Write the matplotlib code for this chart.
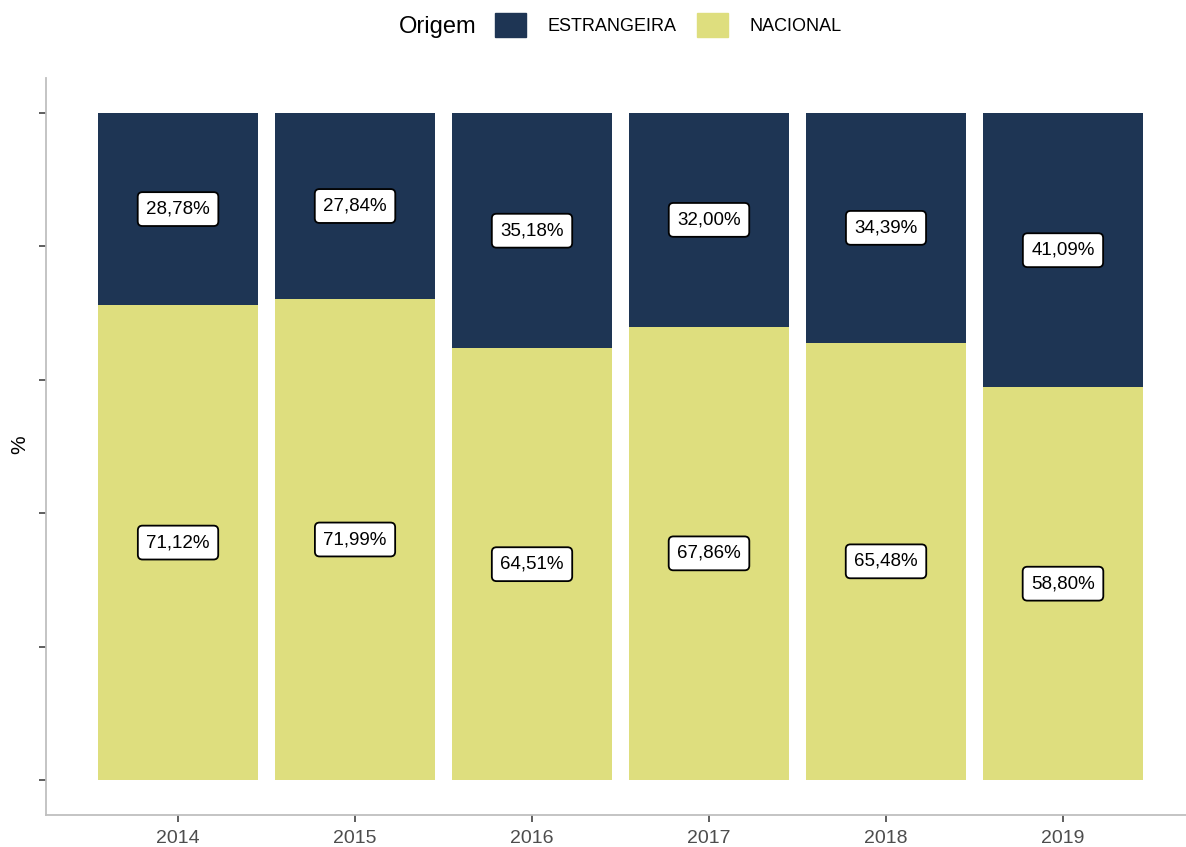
import numpy as np
import matplotlib
matplotlib.use("Agg")
import matplotlib.pyplot as plt
from matplotlib.patches import Patch

plt.rcParams['font.family'] = ['Liberation Sans', 'DejaVu Sans']

# data (percent of total per year)
anos = ['2014', '2015', '2016', '2017', '2018', '2019']
estrangeira = [28.78, 27.84, 35.18, 32.00, 34.39, 41.09]
nacional = [71.12, 71.99, 64.51, 67.86, 65.48, 58.80]

cor_estr = '#1E3554'
cor_nac = '#DEDE7E'

def fmt(v):
    return ('%.2f' % v).replace('.', ',') + '%'

fig = plt.figure(figsize=(11.86, 8.47), dpi=100)
ax = fig.add_axes([46 / 1186, 32 / 847, 1 - 46 / 1186, (815 - 78) / 847])

x = np.arange(len(anos))
est = np.array(estrangeira)
nac = np.array(nacional)
tot = est + nac
# position fill: each bar normalised to 1
f_nac = nac / tot
f_est = est / tot

ax.bar(x, f_nac, width=0.9, color=cor_nac, linewidth=0)
ax.bar(x, f_est, width=0.9, bottom=f_nac, color=cor_estr, linewidth=0)

box = dict(boxstyle='round,pad=0.45,rounding_size=0.25', fc='white', ec='black', lw=1.3)
for i in range(len(anos)):
    ax.text(x[i], f_nac[i] / 2, fmt(nac[i]), ha='center', va='center',
            fontsize=13.5, color='black', bbox=box)
    ax.text(x[i], f_nac[i] + f_est[i] / 2, fmt(est[i]), ha='center', va='center',
            fontsize=13.5, color='black', bbox=box)

ax.set_ylim(-0.0525, 1.0525)
ax.set_xlim(-0.746, 5.695)
ax.set_xticks(x)
ax.set_xticklabels(anos)
ax.set_yticks([0, 0.2, 0.4, 0.6, 0.8, 1.0])
ax.set_yticklabels([])
ax.tick_params(axis='both', colors='#333333', length=5, width=1.1, labelsize=14,
               labelcolor='#4D4D4D')
ax.tick_params(axis='x', pad=6)
for s in ['top', 'right']:
    ax.spines[s].set_visible(False)
for s in ['left', 'bottom']:
    ax.spines[s].set_color('#BFBFBF')
    ax.spines[s].set_linewidth(1.3)

fig.text(20 / 1186, 1 - 445 / 847, '%', rotation=90, ha='center', va='center',
         fontsize=15, color='black')

# legend
handles = [Patch(color=cor_estr), Patch(color=cor_nac)]
fig.legend(handles, ['ESTRANGEIRA', 'NACIONAL'], ncol=2, frameon=False,
           loc='center', bbox_to_anchor=(668 / 1186, 1 - 25 / 847),
           fontsize=13, handlelength=1.75, handleheight=1.75,
           handletextpad=1.15, columnspacing=1.15, borderpad=0)
fig.text(476 / 1186, 1 - 27 / 847, 'Origem', ha='right', va='center',
         fontsize=17, color='black')

fig.savefig('out.png', dpi=100)
